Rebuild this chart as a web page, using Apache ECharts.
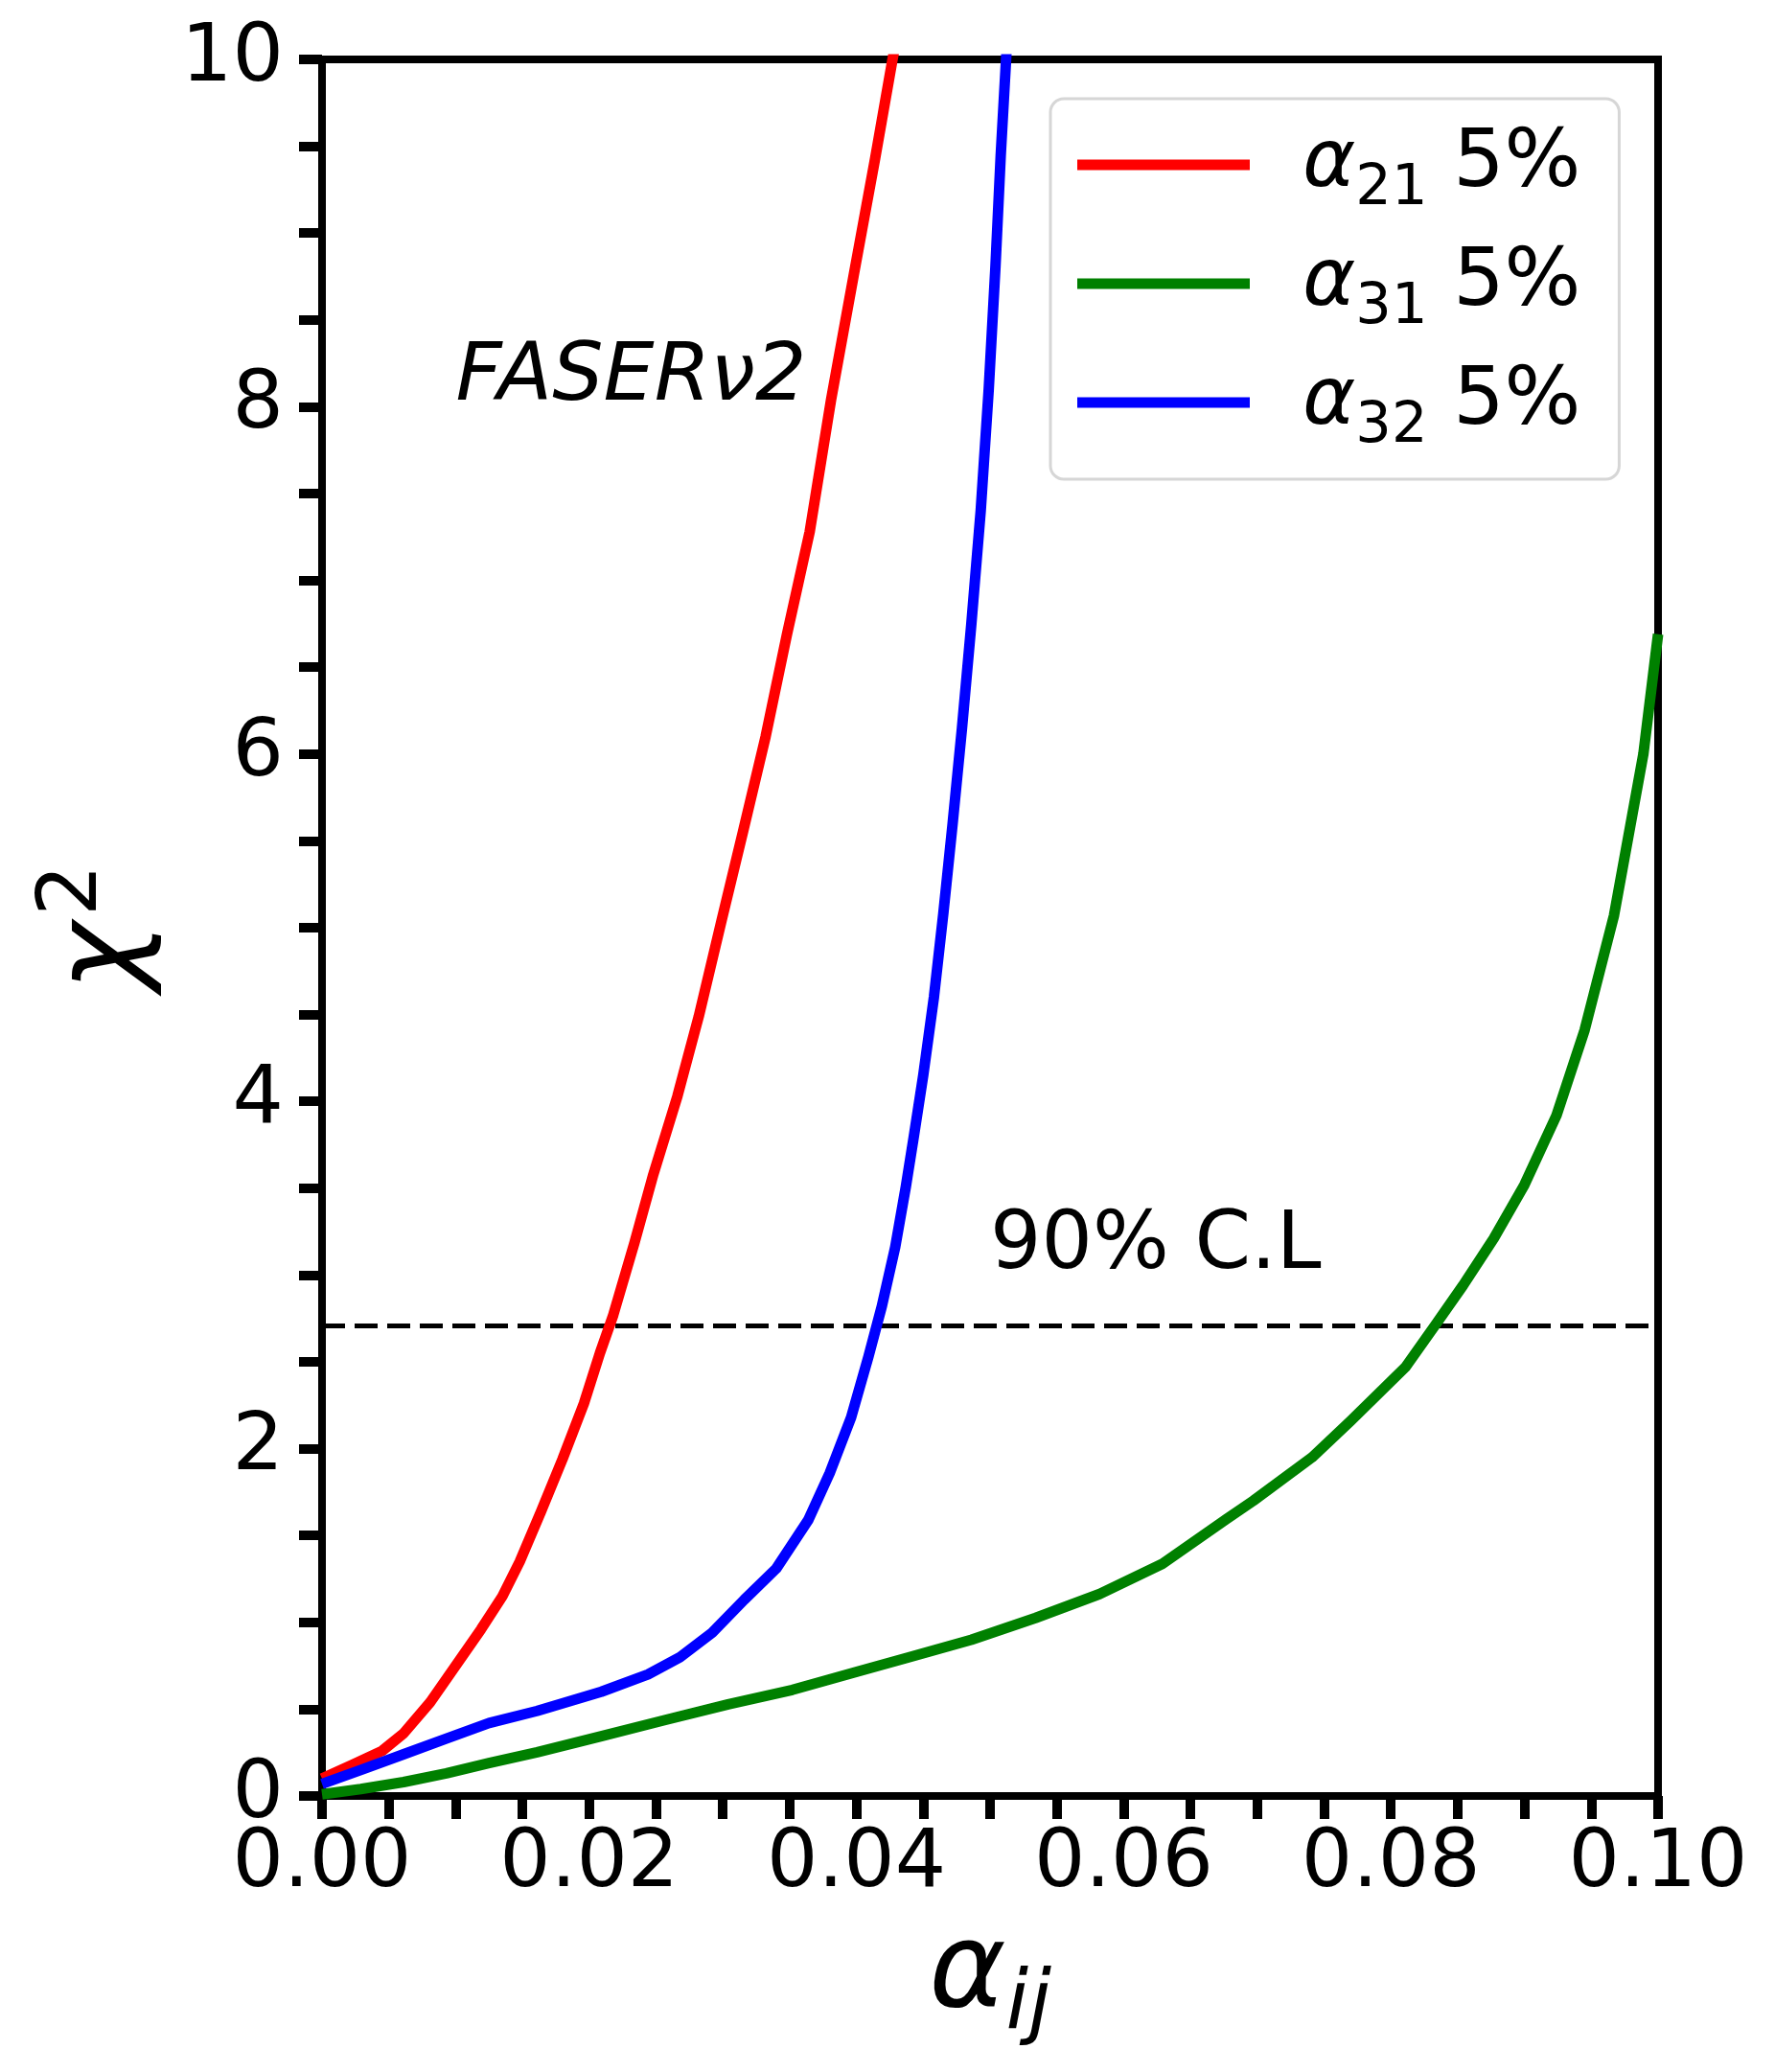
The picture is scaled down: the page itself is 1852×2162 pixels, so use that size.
<!DOCTYPE html>
<html>
<head>
<meta charset="utf-8">
<script src="https://cdn.jsdelivr.net/npm/echarts@6/dist/echarts.min.js"></script>
<style>
html,body{margin:0;padding:0;background:#fff;}
#chart{width:1852px;height:2162px;}
</style>
</head>
<body>
<div id="chart"></div>
<script>
// ---- data ----
const seriesNames = ['α21 5%', 'α31 5%', 'α32 5%'];
const seriesSubs = ['21', '31', '32'];
const seriesColors = ['#ff0000', '#008000', '#0000ff'];

const alpha21X = [0.0000,0.0023,0.0045,0.0061,0.0081,0.0100,0.0119,0.0135,0.0148,0.0164,0.0180,0.0196,0.0208,0.0218,0.0234,0.0248,0.0266,0.0282,0.0299,0.0315,0.0332,0.0348,0.0365,0.0381,0.0398,0.0414,0.0427,0.0432];
const alpha21Y = [0.10,0.18,0.26,0.36,0.54,0.75,0.96,1.15,1.35,1.64,1.94,2.26,2.55,2.77,3.19,3.58,4.03,4.49,5.04,5.55,6.10,6.69,7.28,8.04,8.76,9.43,10.0,10.2];

const alpha31X = [0.0000,0.0029,0.0061,0.0093,0.0125,0.0161,0.0209,0.0256,0.0304,0.0352,0.0400,0.0440,0.0486,0.0534,0.0582,0.0629,0.0677,0.0697,0.0741,0.0770,0.0811,0.0834,0.0854,0.0877,0.0900,0.0924,0.0945,0.0967,0.0989,0.1000];
const alpha31Y = [0.01,0.04,0.08,0.13,0.19,0.252,0.344,0.436,0.528,0.611,0.715,0.80,0.90,1.025,1.163,1.337,1.595,1.70,1.95,2.16,2.47,2.72,2.94,3.21,3.52,3.92,4.41,5.07,6.00,6.69];

const alpha32X = [0.0000,0.0029,0.0061,0.0093,0.0125,0.0161,0.0209,0.0244,0.0268,0.0292,0.0316,0.0340,0.0364,0.0380,0.0396,0.0409,0.0419,0.0429,0.0437,0.0443,0.0450,0.0458,0.0465,0.0472,0.0479,0.0486,0.0493,0.0499,0.0504,0.0508,0.0512,0.0514];
const alpha32Y = [0.07,0.15,0.24,0.33,0.42,0.49,0.60,0.70,0.80,0.94,1.13,1.31,1.59,1.86,2.18,2.53,2.82,3.16,3.51,3.80,4.15,4.60,5.08,5.60,6.15,6.75,7.40,8.10,8.80,9.45,10.0,10.3];

const clLevel = 2.706;
const xTickLabels = ['0.00','0.02','0.04','0.06','0.08','0.10'];
const yTickLabels = ['0','2','4','6','8','10'];
const annotations = [
  {text: 'FASERν2', x: 0.0100, y: 8.0, italic: true},
  {text: '90% C.L', x: 0.0500, y: 3.0, italic: false}
];

const FONT = 'DejaVu Sans';
function pairs(xs, ys){ return xs.map((x,i)=>[x, ys[i]]); }
const allX = [alpha21X, alpha31X, alpha32X];
const allY = [alpha21Y, alpha31Y, alpha32Y];

const chart = echarts.init(document.getElementById('chart'), null, {renderer:'canvas'});

const series = seriesNames.map((name, i) => ({
  name: name,
  type: 'line',
  data: pairs(allX[i], allY[i]),
  showSymbol: false,
  symbol: 'none',
  smooth: false,
  clip: true,
  lineStyle: {color: seriesColors[i], width: 11, cap: 'butt', join: 'round'},
  itemStyle: {color: seriesColors[i]},
  z: 3 + i
}));
series[0].markLine = {
  silent: true,
  symbol: 'none',
  label: {show: false},
  lineStyle: {color: '#000', type: [24, 10], width: 5},
  data: [{yAxis: clLevel}],
  z: 2
};

const legendRich = {
  a: {fontSize: 84, fontFamily: FONT, fontStyle: 'italic', color: '#000', lineHeight: 110, verticalAlign: 'middle', padding: [0,0,0,50]},
  s: {fontSize: 59, fontFamily: FONT, color: '#000', lineHeight: 59, verticalAlign: 'bottom'},
  n: {fontSize: 84, fontFamily: FONT, color: '#000', lineHeight: 110, verticalAlign: 'middle'}
};

const option = {
  backgroundColor: '#fff',
  animation: false,
  grid: {left: 336, right: 122, top: 62, bottom: 288, show: true, borderColor: '#000', borderWidth: 8, backgroundColor: 'transparent', containLabel: false, outerBoundsMode: 'none'},
  legend: {
    data: seriesNames,
    orient: 'vertical',
    left: 1096,
    top: 103,
    icon: 'rect',
    itemWidth: 180,
    itemHeight: 11,
    itemGap: 27,
    padding: [27, 40, 25, 28],
    borderColor: '#d6d6d6',
    borderWidth: 3,
    borderRadius: 14,
    backgroundColor: 'rgba(255,255,255,0.8)',
    selectedMode: false,
    formatter: function(name){
      const i = seriesNames.indexOf(name);
      return '{a|α}{s|' + seriesSubs[i] + '}{n| 5%}';
    },
    textStyle: {rich: legendRich}
  },
  xAxis: {
    type: 'value',
    min: 0, max: 0.1, interval: 0.005,
    name: '{a|α}{s|ij}',
    nameLocation: 'middle',
    nameGap: 112,
    nameTextStyle: {
      rich: {
        a: {fontSize: 122, fontFamily: FONT, fontStyle: 'italic', color: '#000', lineHeight: 150, verticalAlign: 'middle'},
        s: {fontSize: 85, fontFamily: FONT, fontStyle: 'italic', color: '#000', lineHeight: 85, verticalAlign: 'bottom'}
      }
    },
    axisLine: {show: true, onZero: false, lineStyle: {color: '#000', width: 8}},
    axisTick: {show: true, inside: false, length: 24, lineStyle: {color: '#000', width: 10}},
    axisLabel: {
      show: true, fontSize: 84, fontFamily: FONT, color: '#000', margin: 30,
      showMinLabel: true, showMaxLabel: true, hideOverlap: false,
      formatter: function(v){
        const k = Math.round(v / 0.02);
        return Math.abs(v - k*0.02) < 1e-9 ? xTickLabels[k] : '';
      }
    },
    splitLine: {show: false}
  },
  yAxis: {
    type: 'value',
    min: 0, max: 10, interval: 0.5,
    name: '{c|χ}{p|2}',
    nameLocation: 'middle',
    nameRotate: 90,
    nameGap: 151,
    nameTextStyle: {
      rich: {
        c: {fontSize: 122, fontFamily: FONT, fontStyle: 'italic', color: '#000', lineHeight: 150, verticalAlign: 'middle'},
        p: {fontSize: 85, fontFamily: FONT, color: '#000', lineHeight: 85, verticalAlign: 'top', padding: [0,0,0,6]}
      }
    },
    axisLine: {show: true, onZero: false, lineStyle: {color: '#000', width: 8}},
    axisTick: {show: true, inside: false, length: 24, lineStyle: {color: '#000', width: 10}},
    axisLabel: {
      show: true, fontSize: 84, fontFamily: FONT, color: '#000', margin: 40,
      showMinLabel: true, showMaxLabel: true, hideOverlap: false,
      formatter: function(v){
        const k = Math.round(v / 2);
        return Math.abs(v - k*2) < 1e-9 ? yTickLabels[k] : '';
      }
    },
    splitLine: {show: false}
  },
  series: series
};
chart.setOption(option);

const graphics = annotations.map(a => {
  const p = chart.convertToPixel({gridIndex: 0}, [a.x, a.y]);
  return {
    type: 'text',
    x: p[0],
    y: p[1] - 29,
    z: 10,
    style: {
      text: a.text,
      fontSize: 84,
      fontFamily: FONT,
      fontStyle: a.italic ? 'italic' : 'normal',
      fill: '#000',
      align: 'left',
      verticalAlign: 'middle'
    }
  };
});
chart.setOption({graphic: graphics});
</script>
</body>
</html>
